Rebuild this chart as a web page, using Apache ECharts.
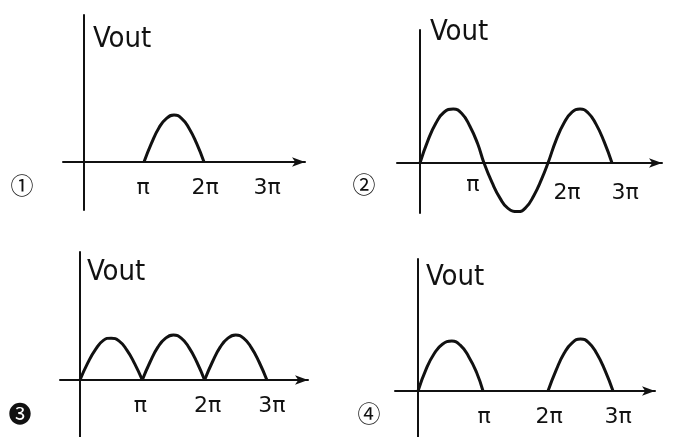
<!DOCTYPE html>
<html>
<head>
<meta charset="utf-8">
<script src="https://cdn.jsdelivr.net/npm/echarts@6/dist/echarts.min.js"></script>
<style>
  html, body { margin: 0; background: #fff; }
  #main { width: 674px; height: 437px; }
</style>
</head>
<body>
<div id="main"></div>
<script>
// x in units of π, y relative to the peak height of each panel
const xTicks = [1, 2, 3];
const tickLabels = ['π', '2π', '3π'];
const panelMarks = ['①', '②', '❸', '④'];
const axisName = 'Vout';

// ① one positive half wave between π and 2π
const curve1 = [
  [[1, 0], [1.125, 0.4], [1.25, 0.73], [1.375, 0.93], [1.5, 1], [1.625, 0.93], [1.75, 0.72], [1.875, 0.4], [2, 0]]
];
// ② full sine wave, 0 .. 3π
const curve2 = [
  [[0, 0], [0.125, 0.42], [0.25, 0.74], [0.375, 0.94], [0.52, 1], [0.65, 0.92], [0.78, 0.68], [0.9, 0.36], [1, 0],
   [1.125, -0.36], [1.25, -0.65], [1.375, -0.84], [1.53, -0.9], [1.65, -0.83], [1.78, -0.6], [1.9, -0.3], [2, 0],
   [2.125, 0.42], [2.25, 0.74], [2.375, 0.94], [2.5, 1], [2.625, 0.93], [2.75, 0.72], [2.875, 0.4], [3, 0]]
];
// ❸ full-wave rectified
const curve3 = [
  [[0, 0], [0.125, 0.38], [0.25, 0.68], [0.375, 0.88], [0.5, 0.93], [0.625, 0.87], [0.75, 0.67], [0.875, 0.37], [1, 0]],
  [[1, 0], [1.125, 0.4], [1.25, 0.73], [1.375, 0.93], [1.5, 1], [1.625, 0.93], [1.75, 0.72], [1.875, 0.4], [2, 0]],
  [[2, 0], [2.125, 0.4], [2.25, 0.73], [2.375, 0.93], [2.5, 1], [2.625, 0.93], [2.75, 0.72], [2.875, 0.4], [3, 0]]
];
// ④ half-wave rectified
const curve4 = [
  [[0, 0], [0.125, 0.42], [0.25, 0.72], [0.375, 0.9], [0.52, 0.96], [0.65, 0.88], [0.78, 0.66], [0.9, 0.36], [1, 0]],
  [[2, 0], [2.125, 0.4], [2.25, 0.73], [2.375, 0.93], [2.5, 1], [2.625, 0.93], [2.75, 0.72], [2.875, 0.4], [3, 0]]
];
const curves = [curve1, curve2, curve3, curve4];

// layout of each panel (pixels); margin is measured from the grid bottom,
// since the labels stay there even though the axis line sits on zero
const panels = [
  { grid: { left: 63, top: 15, width: 242, height: 195 }, x: [-0.35, 3.683], y: [-1.021, 3.128],
    nameGap: -10, namePad: 9, margin: -33, shift: [[-1, 0], [1, 0], [3, 0]], mark: [22, 185] },
  { grid: { left: 397, top: 30, width: 265, height: 183 }, x: [-0.359, 3.781], y: [-0.926, 2.463],
    nameGap: 12, namePad: 10, margin: -39, shift: [[-11, 0], [19, 8], [13, 8]], mark: [364, 184] },
  { grid: { left: 60, top: 252, width: 248, height: 185 }, x: [-0.321, 3.66], y: [-1.267, 2.844],
    nameGap: -6, namePad: 7, margin: -42, shift: [[-2, 0], [3, 0], [5, 0]], mark: [20, 413] },
  { grid: { left: 395, top: 259, width: 260, height: 178 }, x: [-0.354, 3.646], y: [-0.885, 2.538],
    nameGap: -4, namePad: 8, margin: -31, shift: [[1, 0], [1, 0], [5, 0]], mark: [369, 413] }
];

const ink = '#111';

const grid = [], xAxis = [], yAxis = [], series = [], graphic = [];

panels.forEach((p, i) => {
  grid.push(Object.assign({ outerBoundsMode: 'none', containLabel: false }, p.grid));

  // 每个刻度标签用 rich 微调位置（手绘图里标签不完全对齐刻度）
  const rich = {};
  p.shift.forEach((s, k) => {
    const dx = s[0], dy = s[1];
    rich['t' + k] = {
      fontFamily: 'DejaVu Sans', fontSize: 22, color: ink,
      padding: [dy, dx < 0 ? -2 * dx : 0, 0, dx > 0 ? 2 * dx : 0]
    };
  });

  xAxis.push({
    type: 'value', gridIndex: i, min: p.x[0], max: p.x[1],
    axisLine: { onZero: true, symbol: ['none', 'arrow'], symbolSize: [7, 13], lineStyle: { color: ink, width: 2 } },
    axisTick: { show: false },
    splitLine: { show: false },
    axisLabel: {
      customValues: xTicks, margin: p.margin,
      formatter: (v) => {
        const k = xTicks.indexOf(Math.round(v));
        return k < 0 ? '' : '{t' + k + '|' + tickLabels[k] + '}';
      },
      rich: rich
    }
  });

  yAxis.push({
    type: 'value', gridIndex: i, min: p.y[0], max: p.y[1],
    name: axisName, nameLocation: 'end', nameGap: p.nameGap,
    nameTextStyle: {
      fontFamily: 'DejaVu Sans Condensed, Liberation Sans Narrow, DejaVu Sans',
      fontSize: 29, color: ink, align: 'left', verticalAlign: 'top',
      padding: [0, 0, 0, p.namePad]
    },
    axisLine: { onZero: true, lineStyle: { color: ink, width: 2 } },
    axisTick: { show: false },
    axisLabel: { show: false },
    splitLine: { show: false }
  });

  curves[i].forEach((seg) => {
    series.push({
      type: 'line', xAxisIndex: i, yAxisIndex: i, data: seg,
      smooth: 0.5, showSymbol: false, silent: true,
      lineStyle: { color: ink, width: 3 }
    });
  });

  graphic.push({
    type: 'text', x: p.mark[0], y: p.mark[1],
    style: {
      text: panelMarks[i], fill: ink, fontSize: 23,
      fontFamily: 'Noto Sans CJK JP, DejaVu Sans',
      align: 'center', verticalAlign: 'middle'
    }
  });
});

const chart = echarts.init(document.getElementById('main'));
chart.setOption({
  animation: false,
  backgroundColor: '#fff',
  grid: grid,
  xAxis: xAxis,
  yAxis: yAxis,
  series: series,
  graphic: graphic
});
</script>
</body>
</html>
